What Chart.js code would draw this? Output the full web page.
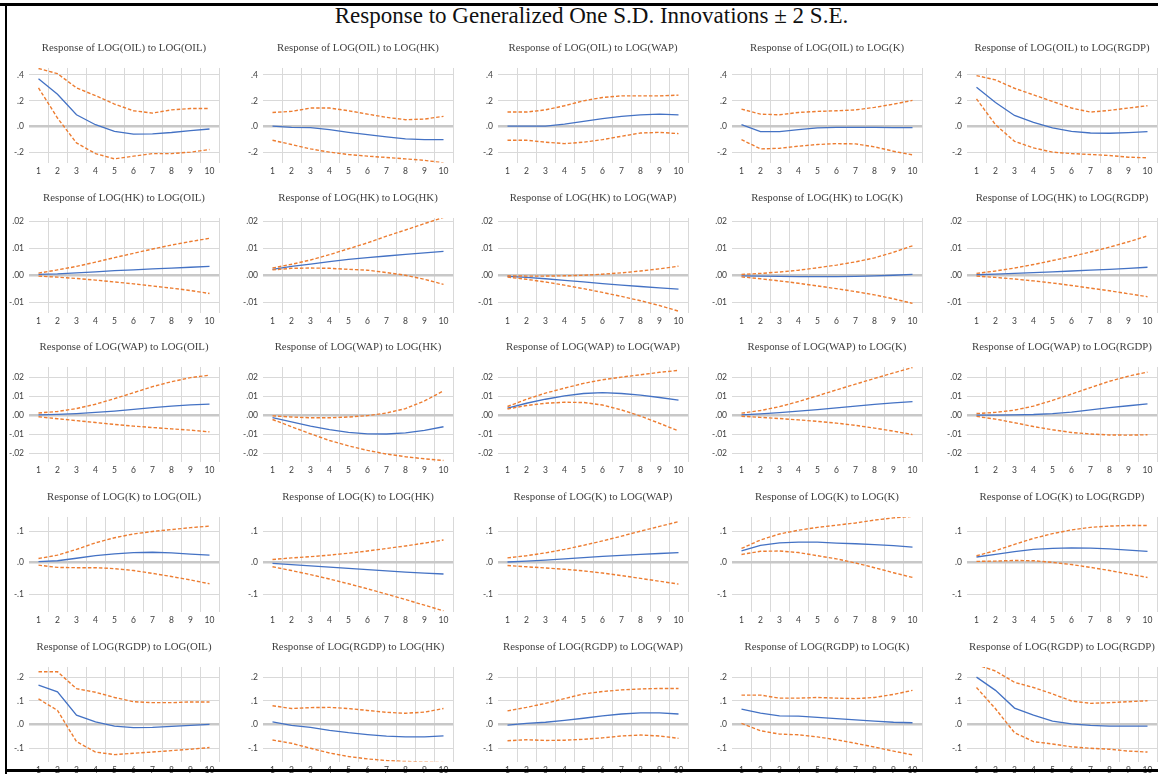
<!DOCTYPE html>
<html>
<head>
<meta charset="utf-8">
<script src="https://cdn.jsdelivr.net/npm/chart.js@4"></script>
<style>
  body { margin: 0; width: 1158px; height: 774px; overflow: hidden; background: #fff; position: relative; }
  canvas { position: absolute; }
  .line { position: absolute; background: #000; z-index: 5; }
  #mainTitle { position: absolute; left: 0; width: 1183px; top: 3px; text-align: center;
    font-family: "Liberation Serif", serif; font-size: 23px; color: #111; }
</style>
</head>
<body>
<div class="line" style="left:0;top:3px;width:1158px;height:3px"></div>
<div class="line" style="left:5px;top:3px;width:2px;height:771px"></div>
<div class="line" style="left:5px;top:769px;width:1153px;height:3px"></div>
<div id="mainTitle">Response to Generalized One S.D. Innovations ± 2 S.E.</div>
<script>
const vars = ['OIL', 'HK', 'WAP', 'K', 'RGDP'];
const steps = ['1', '2', '3', '4', '5', '6', '7', '8', '9', '10'];

// y axis per row (row = responding variable)
const rowTicks = [
    [0.4, 0.2, 0, -0.2],
    [0.02, 0.01, 0, -0.01],
    [0.02, 0.01, 0, -0.01, -0.02],
    [0.1, 0, -0.1],
    [0.2, 0.1, 0, -0.1]
];
const rowMin = [-0.277, -0.0139, -0.0242, -0.155, -0.156];
const rowMax = [0.454, 0.0214, 0.0253, 0.145, 0.244];
const rowDecimals = [1, 2, 2, 1, 1];

// response of LOG(OIL) to OIL, HK, WAP, K, RGDP
const midOIL = [
    [.37, .25, .092, .015, -.036, -.057, -.055, -.045, -.03, -.018],
    [.005, -.005, -.008, -.023, -.044, -.062, -.079, -.095, -.10, -.10],
    [.005, .005, .005, .02, .041, .062, .08, .092, .097, .092],
    [.015, -.038, -.038, -.023, -.01, -.005, -.005, -.005, -.007, -.008],
    [.305, .187, .087, .033, -.01, -.036, -.049, -.051, -.046, -.038]
];
const lowOIL = [
    [.30, .067, -.126, -.208, -.249, -.228, -.208, -.208, -.197, -.177],
    [-.105, -.138, -.172, -.197, -.215, -.228, -.238, -.249, -.26, -.28],
    [-.105, -.105, -.12, -.131, -.12, -.10, -.074, -.049, -.044, -.054],
    [-.10, -.172, -.167, -.151, -.138, -.131, -.133, -.156, -.19, -.218],
    [.215, .015, -.113, -.164, -.197, -.208, -.215, -.223, -.236, -.241]
];
const highOIL = [
    [.45, .41, .30, .24, .175, .123, .105, .13, .14, .14],
    [.11, .118, .144, .144, .123, .097, .072, .054, .059, .08],
    [.113, .113, .13, .162, .20, .226, .238, .238, .238, .244],
    [.136, .097, .092, .11, .118, .123, .13, .149, .174, .203],
    [.395, .362, .297, .246, .195, .144, .113, .126, .144, .162]
];

// response of LOG(HK)
const midHK = [
    [.0003, .0005, .0009, .0013, .0017, .002, .0024, .0027, .003, .0033],
    [.0022, .0033, .0042, .0051, .0059, .0066, .0072, .0078, .0084, .0089],
    [-.0004, -.0008, -.0013, -.0019, -.0025, -.0031, -.0037, -.0042, -.0047, -.0052],
    [-.0002, -.0003, -.0004, -.0005, -.0005, -.0005, -.0004, -.0002, 0, .0003],
    [.0002, .0004, .0007, .001, .0013, .0016, .0019, .0022, .0026, .003]
];
const lowHK = [
    [-.0003, -.0007, -.0012, -.0018, -.0025, -.0032, -.004, -.0048, -.0057, -.0068],
    [.002, .0026, .0027, .0026, .0022, .0019, .001, 0, -.0015, -.0034],
    [-.0007, -.0015, -.0025, -.0037, -.005, -.0064, -.0079, -.0095, -.0113, -.0134],
    [-.0006, -.0013, -.0021, -.003, -.004, -.005, -.0061, -.0073, -.0088, -.0105],
    [-.0003, -.0008, -.0014, -.0021, -.0029, -.0038, -.0048, -.0058, -.0069, -.008]
];
const highHK = [
    [.0008, .002, .0033, .0049, .0066, .0082, .0098, .0113, .0126, .0138],
    [.0027, .0041, .0057, .0077, .0099, .0121, .0146, .0169, .0193, .0216],
    [-.0002, -.0003, -.0003, -.0002, 0, .0004, .0009, .0016, .0024, .0034],
    [.0003, .0007, .0012, .0019, .0028, .0038, .005, .0065, .0086, .011],
    [.0007, .0016, .0027, .004, .0055, .007, .0087, .0105, .0125, .0147]
];

// response of LOG(WAP)
const midWAP = [
    [.0002, .0005, .0009, .0015, .0022, .0031, .004, .0048, .0054, .0058],
    [-.0012, -.0035, -.0057, -.0075, -.0089, -.0097, -.0098, -.0092, -.0079, -.006],
    [.0037, .0063, .0084, .0102, .0114, .0119, .0114, .0105, .0093, .0079],
    [.0002, .0007, .0014, .0022, .003, .0039, .0048, .0057, .0065, .0072],
    [.0001, .0001, .0002, .0004, .0009, .0017, .0028, .004, .005, .006]
];
const lowWAP = [
    [-.0008, -.0018, -.0028, -.0038, -.0048, -.0057, -.0064, -.0071, -.0078, -.0087],
    [-.0022, -.006, -.0097, -.0132, -.016, -.0184, -.0203, -.0217, -.0228, -.0237],
    [.0033, .0051, .0063, .0068, .0067, .0054, .0028, -.0004, -.0042, -.0082],
    [-.0005, -.0011, -.0017, -.0024, -.0032, -.0041, -.0053, -.0067, -.0083, -.0101],
    [-.0006, -.002, -.0039, -.0059, -.0076, -.009, -.0098, -.0103, -.0104, -.0102]
];
const highWAP = [
    [.0012, .002, .0035, .0058, .0087, .0118, .015, .0176, .0197, .021],
    [-.0003, -.0009, -.0013, -.0013, -.0009, -.0002, .0012, .0035, .0075, .0128],
    [.0046, .0084, .0116, .0142, .0167, .0186, .02, .0212, .0225, .0235],
    [.0011, .0025, .0045, .0072, .0102, .0133, .0163, .0193, .0222, .025],
    [.0009, .0015, .0027, .0048, .0078, .0111, .0145, .0178, .0205, .0226]
];

// response of LOG(K)
const midK = [
    [.003, .006, .014, .022, .028, .032, .033, .031, .027, .024],
    [-.002, -.006, -.01, -.014, -.018, -.022, -.026, -.03, -.033, -.036],
    [.002, .005, .008, .012, .016, .02, .023, .026, .029, .032],
    [.037, .055, .063, .065, .065, .062, .06, .057, .054, .049],
    [.018, .026, .035, .042, .045, .047, .046, .044, .04, .036]
];
const lowK = [
    [-.008, -.015, -.016, -.016, -.019, -.025, -.034, -.044, -.055, -.067],
    [-.013, -.025, -.038, -.052, -.067, -.083, -.1, -.117, -.135, -.153],
    [-.009, -.013, -.017, -.021, -.026, -.033, -.041, -.05, -.059, -.068],
    [.026, .036, .037, .032, .022, .012, -.001, -.016, -.032, -.047],
    [.004, .005, .007, .006, .001, -.006, -.015, -.025, -.036, -.047]
];
const highK = [
    [.013, .024, .042, .063, .079, .091, .099, .105, .111, .116],
    [.01, .015, .019, .024, .03, .037, .045, .053, .062, .072],
    [.015, .022, .031, .042, .055, .069, .084, .1, .115, .13],
    [.045, .072, .091, .103, .112, .119, .126, .135, .142, .147],
    [.022, .038, .058, .077, .092, .104, .112, .116, .118, .118]
];

// response of LOG(RGDP)
const midRGDP = [
    [.167, .139, .04, .012, -.006, -.013, -.012, -.007, -.003, .001],
    [.012, -.003, -.012, -.024, -.034, -.042, -.049, -.052, -.052, -.048],
    [-.002, .005, .01, .018, .027, .037, .045, .05, .05, .045],
    [.066, .049, .037, .036, .031, .025, .02, .015, .01, .008],
    [.201, .145, .07, .04, .015, .003, -.003, -.006, -.006, -.006]
];
const lowRGDP = [
    [.109, .06, -.072, -.116, -.127, -.121, -.116, -.11, -.104, -.097],
    [-.065, -.079, -.1, -.12, -.135, -.145, -.152, -.156, -.158, -.16],
    [-.068, -.064, -.067, -.066, -.062, -.056, -.048, -.044, -.048, -.058],
    [.005, -.026, -.04, -.043, -.052, -.064, -.079, -.095, -.112, -.128],
    [.157, .067, -.034, -.072, -.082, -.094, -.1, -.104, -.112, -.116]
];
const highRGDP = [
    [.224, .224, .152, .137, .115, .097, .093, .093, .096, .096],
    [.08, .068, .072, .073, .068, .06, .052, .048, .053, .068],
    [.058, .073, .09, .11, .13, .14, .147, .151, .153, .153],
    [.125, .125, .112, .112, .115, .112, .11, .115, .128, .145],
    [.254, .227, .179, .157, .13, .1, .09, .093, .097, .101]
];

const mid = [midOIL, midHK, midWAP, midK, midRGDP];
const low = [lowOIL, lowHK, lowWAP, lowK, lowRGDP];
const high = [highOIL, highHK, highWAP, highK, highRGDP];

const tickFont = { family: 'Lato, "Liberation Sans", sans-serif', size: 8.5 };
const titleFont = { family: '"Liberation Serif", serif', size: 10.8, weight: 'normal' };

function fmt(v, dec) {
    let s = Math.abs(v).toFixed(dec).replace(/^0/, '');
    return (v < -1e-9 ? '-' : '') + s;
}

for (let r = 0; r < 5; r++) {
    for (let c = 0; c < 5; c++) {
        const cv = document.createElement('canvas');
        cv.width = 218;
        cv.height = 152;
        cv.style.left = (4.5 + c * 234.5) + 'px';
        cv.style.top = (28 + r * 149.7) + 'px';
        document.body.appendChild(cv);

        const dashed = {
            borderColor: '#ED7D31',
            borderWidth: 1.4,
            borderDash: [3.5, 2],
            pointRadius: 0,
            fill: false,
            tension: 0
        };

        new Chart(cv, {
            type: 'line',
            data: {
                labels: steps,
                datasets: [
                    Object.assign({ data: high[r][c] }, dashed),
                    Object.assign({ data: low[r][c] }, dashed),
                    {
                        data: mid[r][c],
                        borderColor: '#4472C4',
                        borderWidth: 1.3,
                        pointRadius: 0,
                        fill: false,
                        tension: 0
                    }
                ]
            },
            options: {
                responsive: false,
                animation: false,
                devicePixelRatio: 1,
                layout: { padding: { left: 0, right: 4, top: 0, bottom: 0 } },
                plugins: {
                    legend: { display: false },
                    tooltip: { enabled: false },
                    title: {
                        display: true,
                        fullSize: false,
                        text: 'Response of LOG(' + vars[r] + ') to LOG(' + vars[c] + ')',
                        font: titleFont,
                        color: '#404040',
                        padding: { top: 14.0, bottom: 13.0 }
                    }
                },
                scales: {
                    x: {
                        offset: true,
                        grid: {
                            offset: true,
                            drawTicks: false,
                            color: ctx => ctx.index === 0 ? 'rgba(0,0,0,0)' : '#d9d9d9'
                        },
                        border: { display: false },
                        ticks: { font: tickFont, color: '#404040', padding: 4, maxRotation: 0, autoSkip: false },
                        afterFit: s => { s.height = 17.5; }
                    },
                    y: {
                        min: rowMin[r],
                        max: rowMax[r],
                        afterBuildTicks: s => { s.ticks = rowTicks[r].map(v => ({ value: v })); },
                        grid: {
                            drawTicks: false,
                            color: ctx => (ctx.tick && Math.abs(ctx.tick.value) < 1e-9) ? '#c8c8c8' : '#d9d9d9',
                            lineWidth: ctx => (ctx.tick && Math.abs(ctx.tick.value) < 1e-9) ? 2.5 : 1
                        },
                        border: { display: false },
                        ticks: {
                            font: tickFont,
                            color: '#404040',
                            padding: 5,
                            callback: v => fmt(v, rowDecimals[r])
                        },
                        afterFit: s => { s.width = 24; }
                    }
                }
            }
        });
    }
}
</script>
</body>
</html>
